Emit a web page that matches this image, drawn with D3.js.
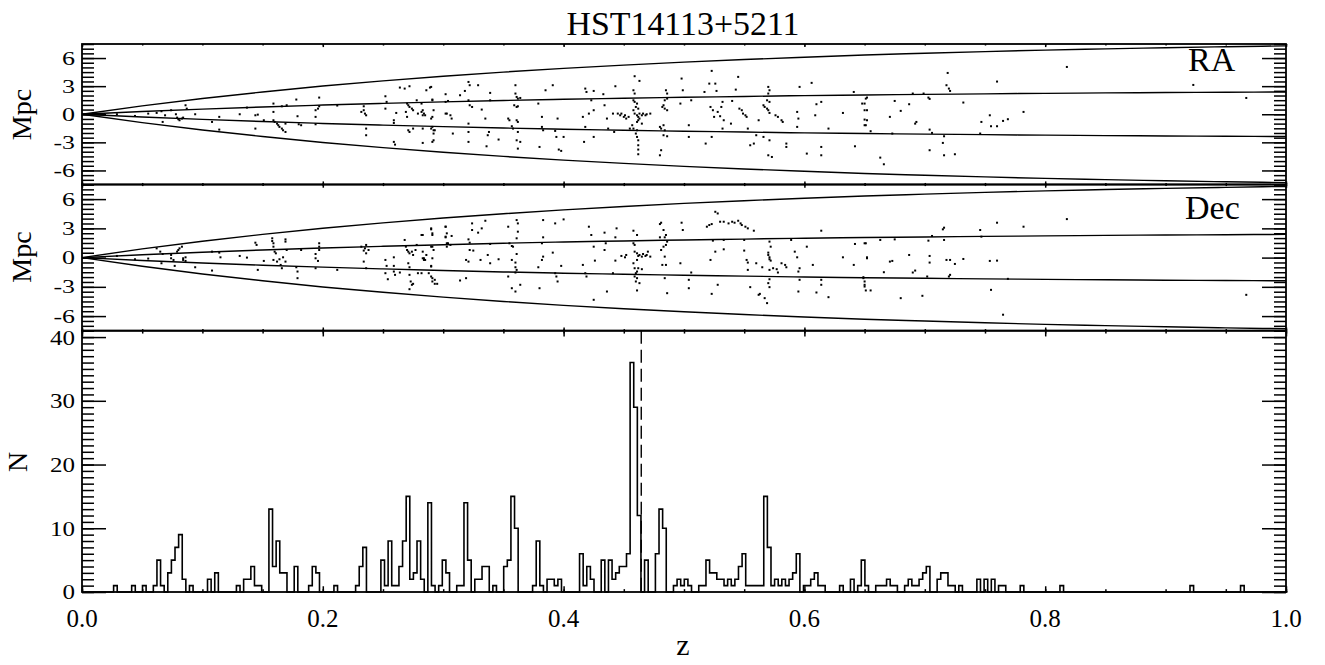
<!DOCTYPE html>
<html lang="en">
<head>
<meta charset="utf-8">
<title>HST14113+5211</title>
<script src="https://d3js.org/d3.v7.min.js"></script>
<style>
  body { margin: 0; background: #fff; }
  svg text { font-family: "Liberation Serif", "Times New Roman", serif; fill: #000; }
</style>
</head>
<body>
<script>
// ---- data ----
var titleText = "HST14113+5211";
var xTicks = [0, 0.2, 0.4, 0.6, 0.8, 1.0];
var mpcTicks = [-6, -3, 0, 3, 6];
var nTicks = [0, 10, 20, 30, 40];
var clusterZ = 0.4645;

// envelope curves (Mpc) read along z
var envZ     = [0, 0.05, 0.1, 0.15, 0.2, 0.25, 0.3, 0.35, 0.4, 0.45, 0.5, 0.55, 0.6, 0.65, 0.7, 0.75, 0.8, 0.85, 0.9, 0.95, 1.0];
var envOuter = [0, 0.89, 1.68, 2.38, 3.01, 3.56, 4.06, 4.50, 4.90, 5.25, 5.56, 5.84, 6.09, 6.32, 6.51, 6.69, 6.85, 6.98, 7.10, 7.21, 7.30];
var envInner = [0, 0.29, 0.55, 0.78, 0.98, 1.16, 1.32, 1.47, 1.60, 1.71, 1.81, 1.90, 1.99, 2.06, 2.12, 2.18, 2.23, 2.28, 2.32, 2.35, 2.38];

// histogram: first bin edge, bin width, counts
var histEdge0 = 0.00225;
var histWidth = 0.003;
var histN = [
  0,0,0,0,0,0,0,0,1,0, 0,0,0,1,0,0,1,0,0,1,
  5,1,0,3,5,7,9,2,0,1, 0,0,0,0,2,0,3,0,0,0,
  0,0,1,0,2,2,4,1,1,0, 0,13,4,8,3,3,0,0,4,0,
  0,0,1,4,3,0,0,0,0,1, 0,0,0,0,0,1,4,7,0,0,
  0,0,5,1,8,1,1,4,8,15, 2,3,8,2,0,14,1,0,1,5,
  3,0,0,1,1,14,5,0,2,2, 4,4,0,1,0,0,4,5,15,10,
  0,0,0,0,1,8,1,0,2,2, 1,2,0,0,0,0,0,6,1,4,
  2,0,0,5,0,5,2,3,4,4, 6,36,29,12,0,5,0,0,6,13,
  10,0,0,1,2,1,2,1,0,0, 1,1,5,3,3,2,2,1,2,1,
  2,4,6,1,1,1,1,1,15,7, 1,2,1,2,1,2,3,6,0,1,
  1,2,3,1,1,0,0,0,0,1, 0,0,2,0,1,5,1,0,0,1,
  1,1,2,1,1,0,0,1,2,1, 1,2,3,4,0,0,2,3,3,1,
  1,0,1,0,0,0,0,2,0,2, 0,2,0,1,1,0,0,0,0,1,
  0,0,0,0,0,0,0,0,0,0, 1,0,0,0,0,0,0,0,0,0,
  0,0,0,0,0,0,0,0,0,0, 0,0,0,0,0,0,0,0,0,0,
  0,0,0,0,0,0,1,0,0,0, 0,0,0,0,0,0,0,0,0,0,
  1,0,0,0,0,0,0,0,0,0, 0,0,0
];

// galaxies: [z, offset in Mpc]
var raPts = [
  [0.029,0.00],[0.044,-0.18],[0.055,0.07],[0.062,0.14],[0.066,0.32],[0.069,-0.11],[0.067,-0.82],[0.074,0.43],
  [0.078,0.00],[0.079,-0.36],[0.080,-0.53],[0.081,-0.64],[0.083,-0.46],[0.084,-0.36],[0.086,0.96],[0.087,0.60],
  [0.094,0.00],[0.108,-0.82],[0.114,-0.28],[0.114,-1.64],[0.131,0.00],[0.137,0.71],[0.144,-0.11],[0.146,-0.04],
  [0.144,-1.53],[0.151,-0.64],[0.159,1.14],[0.159,0.25],[0.159,-0.64],[0.160,-0.82],[0.162,-1.00],[0.163,-1.17],
  [0.164,-1.35],[0.166,-1.53],[0.167,-1.71],[0.169,-1.89],[0.169,-1.00],[0.170,0.96],[0.166,0.85],[0.178,1.57],
  [0.179,-0.21],[0.180,-1.07],[0.182,-1.17],[0.194,0.43],[0.194,-0.28],[0.196,0.60],[0.197,1.78],[0.197,0.85],
  [0.194,-1.07],[0.212,0.93],[0.232,0.25],[0.234,0.43],[0.235,0.07],[0.236,-0.11],[0.236,-1.53],[0.236,-2.24],
  [0.234,0.85],[0.252,1.92],[0.253,1.32],[0.252,0.60],[0.259,-0.64],[0.259,-0.93],[0.259,-2.95],[0.260,-3.24],
  [0.261,0.14],[0.264,2.85],[0.268,2.74],[0.272,2.99],[0.270,1.14],[0.271,0.96],[0.272,0.78],[0.274,0.60],
  [0.275,0.43],[0.269,0.25],[0.270,-0.28],[0.271,-1.71],[0.272,-1.89],[0.275,-1.53],[0.278,1.49],[0.279,0.07],
  [0.282,0.25],[0.284,0.07],[0.283,-1.53],[0.285,-0.11],[0.286,2.56],[0.289,2.85],[0.290,-0.46],[0.291,1.49],
  [0.291,-1.35],[0.292,-2.06],[0.293,-1.71],[0.292,-2.78],[0.302,1.32],[0.303,0.07],[0.304,1.42],[0.302,2.14],
  [0.282,1.14],[0.283,0.43],[0.283,-0.11],[0.290,2.92],[0.291,1.57],[0.292,0.43],[0.291,-0.28],[0.290,-1.53],
  [0.292,-1.71],[0.291,-2.95],[0.283,-3.06],[0.302,0.07],[0.306,-0.11],[0.307,-0.46],[0.308,-2.06],[0.314,2.03],
  [0.318,2.49],[0.321,3.45],[0.322,3.10],[0.321,1.49],[0.322,0.96],[0.324,0.78],[0.321,-1.00],[0.321,-1.89],
  [0.321,-2.95],[0.329,3.10],[0.332,0.50],[0.335,-0.46],[0.336,-3.42],[0.337,-2.24],[0.338,-1.89],[0.339,2.28],
  [0.339,1.49],[0.346,-2.70],[0.354,-0.46],[0.355,-0.64],[0.357,-1.28],[0.358,-1.53],[0.360,3.10],[0.360,2.21],
  [0.361,1.85],[0.362,1.67],[0.364,1.74],[0.359,0.96],[0.361,0.78],[0.362,0.85],[0.361,-0.64],[0.362,-0.82],
  [0.362,-1.89],[0.361,-2.78],[0.362,-3.67],[0.364,-2.95],[0.379,1.14],[0.380,-3.49],[0.382,-0.28],[0.382,-1.35],
  [0.383,-1.71],[0.385,2.56],[0.391,3.10],[0.393,-1.78],[0.394,-2.42],[0.395,-0.46],[0.396,-3.77],[0.398,-3.91],
  [0.400,-2.42],[0.416,-0.28],[0.418,2.74],[0.419,2.38],[0.418,-1.35],[0.421,0.07],[0.423,1.49],[0.425,2.49],
  [0.425,0.43],[0.425,-2.42],[0.417,-2.95],[0.433,2.14],[0.434,0.96],[0.436,-0.46],[0.437,-1.53],[0.441,0.07],
  [0.442,-1.89],[0.443,2.99],[0.445,0.07],[0.447,-0.11],[0.450,-0.28],[0.452,-0.46],[0.459,4.06],[0.463,3.56],
  [0.458,2.56],[0.459,2.21],[0.458,1.49],[0.459,1.32],[0.461,1.14],[0.460,0.78],[0.462,0.60],[0.458,0.43],
  [0.459,0.07],[0.461,-0.11],[0.463,0.07],[0.465,-0.11],[0.466,0.07],[0.468,-0.11],[0.469,0.00],[0.472,0.07],
  [0.462,-0.28],[0.463,-0.46],[0.462,-0.64],[0.461,-0.82],[0.465,-1.00],[0.458,-1.53],[0.461,-1.71],[0.460,-2.06],
  [0.461,-2.42],[0.462,-2.78],[0.462,-3.31],[0.462,-3.77],[0.462,-4.27],[0.455,-1.53],[0.457,-1.17],[0.454,-0.28],
  [0.451,-0.11],[0.448,0.07],[0.480,-1.35],[0.481,-1.53],[0.484,-1.71],[0.483,-1.17],[0.485,2.56],[0.486,2.21],
  [0.486,1.67],[0.484,1.49],[0.483,0.96],[0.484,0.60],[0.486,0.43],[0.482,0.78],[0.480,-4.38],[0.481,-3.84],
  [0.483,-2.24],[0.486,-2.35],[0.498,3.81],[0.499,2.56],[0.497,1.14],[0.504,-1.17],[0.504,-2.42],[0.506,1.49],
  [0.517,2.38],[0.518,-3.13],[0.521,3.27],[0.522,0.78],[0.523,-2.42],[0.524,0.43],[0.525,-0.28],[0.526,3.27],
  [0.527,2.49],[0.523,4.63],[0.528,0.25],[0.530,-0.21],[0.531,0.78],[0.532,1.32],[0.533,-0.64],[0.532,-1.53],
  [0.539,-1.00],[0.540,1.42],[0.543,2.63],[0.545,3.99],[0.546,0.60],[0.548,0.43],[0.549,0.07],[0.551,-0.11],
  [0.552,-0.28],[0.553,-1.53],[0.555,-3.31],[0.558,-3.13],[0.560,-2.24],[0.562,-0.64],[0.566,-2.42],[0.566,0.96],
  [0.567,0.78],[0.569,0.60],[0.570,0.43],[0.571,0.14],[0.570,2.92],[0.571,2.56],[0.570,2.21],[0.571,1.32],
  [0.569,1.49],[0.571,-2.78],[0.570,-4.38],[0.573,-4.56],[0.576,-0.11],[0.578,-0.28],[0.581,-0.64],[0.582,-0.82],
  [0.585,-3.13],[0.585,-3.49],[0.594,0.25],[0.595,-0.46],[0.594,-1.35],[0.596,2.92],[0.602,-4.20],[0.606,3.35],
  [0.610,1.07],[0.609,-0.11],[0.614,1.32],[0.614,-3.49],[0.614,-4.38],[0.620,-1.53],[0.632,0.14],[0.641,2.38],
  [0.642,-3.42],[0.650,1.14],[0.651,1.67],[0.652,-0.64],[0.650,-1.17],[0.652,0.43],
  [0.648,1.14],[0.650,0.43],[0.650,-0.57],[0.651,-1.17],[0.652,1.78],[0.655,-1.81],[0.663,-4.63],[0.666,-5.34],
  [0.671,-0.28],[0.673,-2.06],[0.675,1.42],[0.680,0.36],[0.687,1.07],[0.690,2.21],[0.692,-1.00],[0.693,-0.82],
  [0.699,2.21],[0.703,1.78],[0.704,1.64],[0.704,-1.64],[0.706,-1.99],[0.704,-3.84],[0.715,-3.06],[0.716,-2.35],
  [0.716,-4.38],[0.719,4.41],[0.718,3.10],[0.720,2.74],[0.721,2.49],[0.725,-4.27],[0.732,1.25],[0.746,-2.06],
  [0.747,-0.82],[0.754,-0.11],[0.755,-1.28],[0.760,-1.28],[0.760,3.49],[0.765,-0.71],[0.769,-0.53],[0.782,0.25],
  [0.818,5.05],[0.923,3.13],[0.967,1.74]
];

var decPts = [
  [0.029,0.17],[0.044,-0.17],[0.055,-0.10],[0.062,0.95],[0.065,0.61],[0.067,0.37],[0.066,-0.58],[0.074,0.27],
  [0.074,-0.07],[0.076,-0.24],[0.077,-0.85],[0.079,0.61],[0.080,0.78],[0.081,0.95],[0.083,1.12],[0.084,-0.07],
  [0.084,-0.24],[0.086,-0.34],[0.086,0.03],[0.094,-0.99],[0.108,-1.33],[0.108,0.61],[0.114,0.51],[0.115,0.03],
  [0.131,0.17],[0.137,0.00],[0.144,1.53],[0.145,1.30],[0.146,-1.26],[0.151,-0.34],[0.158,1.98],[0.158,1.70],
  [0.159,1.47],[0.159,1.12],[0.160,0.61],[0.161,0.44],[0.159,-0.24],[0.162,-0.41],[0.164,-0.17],[0.165,-0.75],
  [0.166,-1.09],[0.167,0.03],[0.169,1.87],[0.169,1.64],[0.170,0.78],[0.169,-0.41],[0.178,-0.99],[0.179,-1.43],
  [0.179,-2.11],[0.182,0.78],[0.194,0.37],[0.194,-0.07],[0.196,-0.34],[0.197,1.47],[0.197,1.12],[0.197,0.78],
  [0.194,-1.09],[0.212,-1.26],[0.232,1.12],[0.234,0.72],[0.235,0.95],[0.236,1.30],[0.236,0.44],[0.234,-0.41],
  [0.238,0.78],[0.236,-1.09],[0.252,-0.24],[0.253,-0.85],[0.252,-1.60],[0.254,-2.22],[0.259,0.03],[0.259,-0.85],
  [0.259,-1.43],[0.260,-1.77],[0.264,-1.53],[0.268,1.81],[0.269,1.12],[0.270,0.78],[0.271,0.61],[0.272,0.44],
  [0.274,0.61],[0.275,0.27],[0.277,0.78],[0.278,1.30],[0.271,-0.58],[0.272,-0.99],[0.272,-1.77],[0.273,-2.45],
  [0.274,-2.79],[0.275,-2.69],[0.272,-3.24],[0.279,-1.60],[0.283,2.32],[0.284,-0.07],[0.285,-0.24],[0.286,0.27],
  [0.288,-1.60],[0.290,3.00],[0.291,2.49],[0.291,1.12],[0.292,0.78],[0.290,-0.92],[0.291,-2.11],[0.293,-2.28],
  [0.295,-2.69],[0.302,3.17],[0.303,2.49],[0.304,1.47],[0.302,2.15],
  [0.282,2.32],[0.283,0.61],[0.283,-0.07],[0.284,-0.24],[0.282,-1.60],[0.290,2.90],[0.291,2.32],[0.290,1.12],
  [0.291,-0.07],[0.290,-0.85],[0.290,-1.94],[0.291,-2.45],[0.293,-2.69],[0.302,3.17],[0.302,2.08],[0.303,1.47],
  [0.303,1.12],[0.307,2.22],[0.306,1.30],[0.314,-2.35],[0.319,-0.24],[0.321,-0.41],[0.319,-2.11],[0.321,1.87],
  [0.322,1.53],[0.322,0.78],[0.324,3.51],[0.325,0.72],[0.324,2.83],[0.329,2.56],[0.332,3.00],[0.331,-0.24],
  [0.335,3.78],[0.337,0.27],[0.339,-0.58],[0.339,1.40],[0.346,-0.17],[0.354,3.17],[0.355,1.47],[0.357,1.19],
  [0.358,1.12],[0.357,-0.24],[0.361,3.85],[0.362,2.66],[0.361,1.98],[0.362,3.51],[0.361,0.37],[0.360,-0.51],
  [0.360,-0.99],[0.361,-1.26],[0.360,-1.53],[0.354,-1.94],[0.357,-3.14],[0.360,-3.48],[0.364,-2.79],[0.379,-0.99],
  [0.380,-3.14],[0.382,1.47],[0.383,0.10],[0.382,-0.24],[0.383,2.08],[0.383,3.85],[0.393,3.51],[0.391,0.51],
  [0.393,-1.60],[0.394,-1.94],[0.395,-2.45],[0.400,3.92],[0.398,-0.85],[0.416,-0.75],[0.418,-1.60],[0.419,-1.94],
  [0.421,3.17],[0.423,2.32],[0.425,1.12],[0.425,-4.33],[0.426,-0.31],[0.434,2.56],[0.435,1.47],[0.434,0.78],
  [0.436,-3.48],[0.441,-1.60],[0.443,2.08],[0.444,3.00],[0.443,-0.31],[0.448,0.17],[0.451,0.03],[0.452,0.27],
  [0.458,2.76],[0.458,1.47],[0.459,1.30],[0.461,2.32],[0.459,0.61],[0.461,0.44],[0.462,0.17],[0.463,0.27],
  [0.465,0.10],[0.466,0.37],[0.468,0.17],[0.469,0.27],[0.470,0.61],[0.472,0.10],[0.461,-0.24],[0.458,-0.58],
  [0.459,-1.09],[0.461,-1.43],[0.460,-1.60],[0.459,-1.94],[0.461,-2.11],[0.460,-2.45],[0.463,-2.62],[0.461,-3.37],
  [0.462,-1.09],[0.465,-1.19],[0.480,3.44],[0.481,3.58],[0.483,2.83],[0.485,2.32],[0.484,2.08],[0.486,1.64],
  [0.485,1.30],[0.483,1.12],[0.480,2.08],[0.481,0.78],[0.484,0.10],[0.485,-0.75],[0.482,-0.75],[0.486,-3.65],
  [0.484,-2.11],[0.497,-0.58],[0.498,3.58],[0.499,2.83],[0.504,-2.28],[0.504,-3.14],[0.506,-1.53],[0.519,3.17],
  [0.521,3.34],[0.523,3.44],[0.524,1.74],[0.526,4.70],[0.528,4.53],[0.526,0.61],[0.522,-0.24],[0.523,-3.72],
  [0.528,-2.79],[0.530,3.68],[0.533,3.68],[0.537,3.51],[0.540,3.68],[0.542,3.58],[0.545,3.78],[0.547,3.51],
  [0.548,3.34],[0.551,3.17],[0.553,3.00],[0.558,2.76],[0.533,1.81],[0.533,0.85],[0.550,1.81],[0.550,0.72],
  [0.552,-0.24],[0.553,-0.51],[0.553,-1.26],[0.555,-3.03],[0.562,-3.82],[0.563,-3.72],[0.567,-4.16],[0.569,-4.67],
  [0.560,-0.58],[0.565,-0.99],[0.570,0.27],[0.571,0.03],[0.571,-0.17],[0.572,-0.31],[0.570,0.51],[0.571,1.64],
  [0.572,1.12],[0.571,-1.26],[0.571,-2.22],[0.570,-2.62],[0.571,-3.03],[0.574,-1.09],[0.577,-1.19],[0.578,-1.53],
  [0.581,-0.58],[0.584,-0.75],[0.585,-0.99],[0.589,1.81],[0.592,0.61],[0.594,0.03],[0.596,-1.09],[0.595,-1.43],
  [0.596,-2.28],[0.595,-3.48],[0.602,1.12],[0.607,-0.75],[0.610,-3.58],[0.614,2.76],[0.614,-2.28],[0.614,-2.79],
  [0.620,-4.06],[0.632,0.03],[0.641,-0.75],[0.642,1.40],[0.649,-2.01],[0.650,-2.45],[0.651,1.47],[0.652,0.03],
  [0.650,-2.97],
  [0.650,1.47],[0.652,-0.07],[0.649,-2.11],[0.650,-2.79],[0.651,-3.37],[0.655,-3.37],[0.663,1.81],[0.666,-1.50],
  [0.671,-0.41],[0.673,-0.34],[0.675,1.87],[0.680,-4.16],[0.687,0.27],[0.690,-1.53],[0.692,-1.33],[0.698,-3.92],
  [0.703,1.74],[0.704,0.17],[0.704,-0.51],[0.702,-1.94],[0.706,2.22],[0.715,2.90],[0.716,3.07],[0.716,1.81],
  [0.718,-0.24],[0.721,-0.24],[0.720,-1.94],[0.721,-1.77],[0.725,-0.65],[0.732,-0.14],[0.746,2.83],[0.747,2.15],
  [0.754,-0.34],[0.755,-3.31],[0.760,3.58],[0.760,-0.31],[0.765,-5.86],[0.769,-2.18],[0.782,3.17],[0.818,3.95],
  [0.923,4.81],[0.967,-3.82]
];

// ---- layout ----
var w = 1325, h = 665;
var left = 82, right = 1286;

var svg = d3.select("body").append("svg")
  .attr("width", w).attr("height", h);

var x = d3.scaleLinear().domain([0, 1]).range([left, right]);
var yRA  = d3.scaleLinear().domain([-7.5, 7.5]).range([184.5, 44]);
var yDec = d3.scaleLinear().domain([-7.5, 7.5]).range([330.7, 184.5]);
var yN   = d3.scaleLinear().domain([0, 41]).range([592, 330.7]);

var xMinor = d3.range(0, 21).map(function(d){ return d / 20; });
var mpcMinor = d3.range(-15, 16).map(function(d){ return d / 2; });
var nMinor = d3.range(0, 42);

function cleanAxis(g) {
  g.select(".domain").remove();
  g.selectAll(".tick line").attr("stroke", "#000").attr("stroke-width", 1.5);
}

// yLab: font size plus horizontal advance of a digit / minus sign (IDL glyphs are wide)
function frame(y, majorY, minorY, yLab, xLabels) {
  var top = y.range()[1], bottom = y.range()[0];
  var xLen = 0.022 * (bottom - top);

  // y axis ticks, left and right
  [[d3.axisLeft, left], [d3.axisRight, right]].forEach(function(a) {
    svg.append("g").attr("transform", "translate(" + a[1] + ",0)")
      .call(a[0](y).tickValues(minorY).tickSize(-12).tickFormat(""))
      .call(cleanAxis);
    svg.append("g").attr("transform", "translate(" + a[1] + ",0)")
      .call(a[0](y).tickValues(majorY).tickSize(-24).tickFormat(""))
      .call(cleanAxis);
  });

  // y tick labels
  svg.append("g").selectAll("text")
    .data(majorY).enter().append("text")
    .attr("x", left - 7)
    .attr("y", function(d){ return y(d); })
    .attr("text-anchor", "end")
    .attr("dy", "0.34em")
    .attr("textLength", function(d){
      var s = String(d);
      return s.replace("-", "").length * yLab.digit + (d < 0 ? yLab.minus : 0);
    })
    .attr("lengthAdjust", "spacingAndGlyphs")
    .style("font-size", yLab.size + "px")
    .text(function(d){ return String(d); });

  // x ticks, top and bottom
  [[d3.axisTop, top], [d3.axisBottom, bottom]].forEach(function(a) {
    svg.append("g").attr("transform", "translate(0," + a[1] + ")")
      .call(a[0](x).tickValues(xMinor).tickSize(-xLen / 2).tickFormat(""))
      .call(cleanAxis);
    svg.append("g").attr("transform", "translate(0," + a[1] + ")")
      .call(a[0](x).tickValues(xTicks).tickSize(-xLen).tickFormat(""))
      .call(cleanAxis);
  });

  if (xLabels) {
    svg.append("g").selectAll("text")
      .data(xTicks).enter().append("text")
      .attr("x", function(d){ return x(d); })
      .attr("y", bottom + 35)
      .attr("text-anchor", "middle")
      .style("font-size", "25px")
      .text(function(d){ return d.toFixed(1); });
  }

  // box
  svg.append("rect")
    .attr("x", left).attr("y", top)
    .attr("width", right - left).attr("height", bottom - top)
    .attr("fill", "none").attr("stroke", "#000").attr("stroke-width", 1.8);
}

function envelope(y) {
  var line = d3.line()
    .x(function(d){ return x(d[0]); })
    .y(function(d){ return y(d[1]); })
    .curve(d3.curveMonotoneX);
  [envOuter, envInner].forEach(function(arr) {
    [1, -1].forEach(function(s) {
      svg.append("path")
        .datum(envZ.map(function(z, i){ return [z, s * arr[i]]; }))
        .attr("d", line)
        .attr("fill", "none").attr("stroke", "#000").attr("stroke-width", 1.4);
    });
  });
}

function dots(pts, y) {
  svg.append("g").selectAll("rect")
    .data(pts).enter().append("rect")
    .attr("x", function(d){ return x(d[0]) - 1; })
    .attr("y", function(d){ return y(d[1]) - 1; })
    .attr("width", 2).attr("height", 2)
    .attr("fill", "#000");
}

var mpcLab = { size: 19, digit: 13, minus: 8.5 };
var nLab = { size: 22, digit: 12.5, minus: 8 };

// RA panel
envelope(yRA);
dots(raPts, yRA);
frame(yRA, mpcTicks, mpcMinor, mpcLab, false);

// Dec panel
envelope(yDec);
dots(decPts, yDec);
frame(yDec, mpcTicks, mpcMinor, mpcLab, false);

// histogram panel
var steps = histN.map(function(n, i){ return [histEdge0 + i * histWidth, n]; });
steps.push([histEdge0 + histN.length * histWidth, 0]);
svg.append("path")
  .datum(steps)
  .attr("d", d3.line()
    .x(function(d){ return x(d[0]); })
    .y(function(d){ return yN(d[1]); })
    .curve(d3.curveStepAfter))
  .attr("fill", "none").attr("stroke", "#000").attr("stroke-width", 1.6);

svg.append("line")
  .attr("x1", x(clusterZ)).attr("x2", x(clusterZ))
  .attr("y1", yN(41)).attr("y2", yN(0))
  .attr("stroke", "#000").attr("stroke-width", 1.4)
  .attr("stroke-dasharray", "13,6");

frame(yN, nTicks, nMinor, nLab, true);

// labels
svg.append("text").attr("x", 683).attr("y", 35)
  .attr("text-anchor", "middle").style("font-size", "34px")
  .attr("textLength", 233).attr("lengthAdjust", "spacingAndGlyphs")
  .text(titleText);

svg.append("text").attr("x", 1188).attr("y", 71)
  .style("font-size", "34px").text("RA");
svg.append("text").attr("x", 1185).attr("y", 219)
  .style("font-size", "34px").text("Dec");

[[114.5, "Mpc"], [257, "Mpc"], [462, "N"]].forEach(function(d) {
  svg.append("text")
    .attr("transform", "translate(" + (d[1] === "N" ? 27 : 31) + "," + d[0] + ") rotate(-90)")
    .attr("text-anchor", "middle").style("font-size", "28px")
    .text(d[1]);
});

svg.append("text").attr("x", 683).attr("y", 655)
  .attr("text-anchor", "middle").style("font-size", "30px")
  .text("z");
</script>
</body>
</html>
